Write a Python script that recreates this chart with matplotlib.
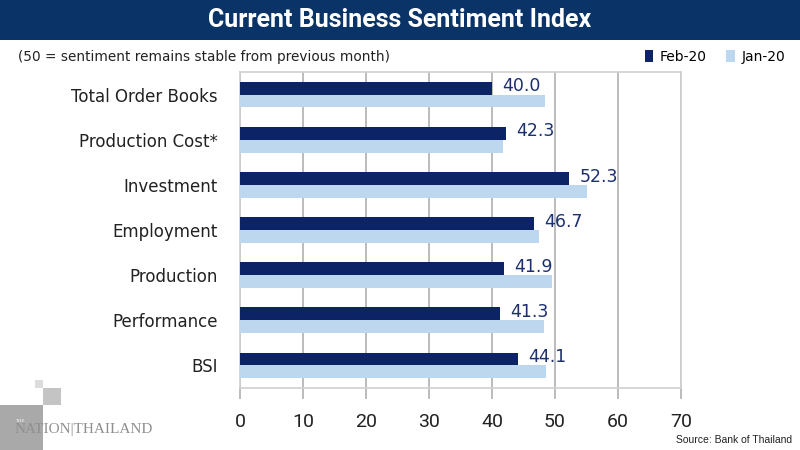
import numpy as np
import matplotlib.pyplot as plt
from matplotlib.patches import Rectangle

# data
categories = ['Total Order Books', 'Production Cost*', 'Investment', 'Employment',
              'Production', 'Performance', 'BSI']
feb20 = [40.0, 42.3, 52.3, 46.7, 41.9, 41.3, 44.1]
jan20 = [48.4, 41.7, 55.1, 47.5, 49.6, 48.3, 48.5]
xticks = [0, 10, 20, 30, 40, 50, 60, 70]

navy = '#0c2466'
light = '#bdd7ee'
grid_c = '#b0b0b0'

fig = plt.figure(figsize=(8, 4.5), dpi=100)
fig.patch.set_facecolor('white')

# title band
fig.patches.append(Rectangle((0, 1 - 40/450), 1, 40/450, transform=fig.transFigure,
                             facecolor='#0a3367', edgecolor='none', zorder=0))
fig.text(0.5, 1 - 20/450, 'Current Business Sentiment Index', ha='center', va='center',
         color='white', fontsize=18, fontweight='bold', family='Roboto')

fig.text(18/800, 1 - 57/450, '(50 = sentiment remains stable from previous month)',
         ha='left', va='center', fontsize=9.8, color='#222222', family='DejaVu Sans')

ax = fig.add_axes([240/800, 1 - 388/450, 441/800, 316/450])
y = np.arange(len(categories))
h = 0.285
ax.barh(y - h/2, feb20, height=h, color=navy, label='Feb-20', zorder=3)
ax.barh(y + h/2, jan20, height=h, color=light, label='Jan-20', zorder=3)

for yi, v in zip(y, feb20):
    ax.text(v + 1.6, yi - h/2 - 0.04, f'{v:.1f}', ha='left', va='center',
            fontsize=12.5, color='#1c2f6e', family='DejaVu Sans', zorder=4)

ax.set_xlim(0, 70)
ax.set_ylim(len(categories) - 0.5, -0.5)
ax.set_xticks(xticks)
ax.set_yticks(y)
ax.set_yticklabels(categories, fontsize=12, color='#222222', family='DejaVu Sans')
ax.tick_params(axis='y', length=0, pad=16)
ax.tick_params(axis='x', length=8, width=1.2, color=grid_c, pad=10, labelsize=14,
               labelcolor='#222222')
for lab in ax.get_xticklabels():
    lab.set_family('Roboto')
ax.grid(axis='x', color=grid_c, linewidth=1.2, zorder=0)
for s in ax.spines.values():
    s.set_color('#d0d0d0')
    s.set_linewidth(1.2)

ax.legend(loc='center right', bbox_to_anchor=(798/800, 1 - 57/450),
          bbox_transform=fig.transFigure, ncol=2, frameon=False,
          handlelength=0.6, handleheight=0.9, handletextpad=0.5, columnspacing=1.4,
          prop={'family': 'DejaVu Sans', 'size': 10})

# logo block
for (x0, y0, w, hh, c) in [(35, 380, 8, 8, '#dcdcdc'), (43, 388, 18, 17, '#c4c4c4'),
                           (0, 405, 43, 45, '#a9a9a9')]:
    fig.patches.append(Rectangle((x0/800, 1 - (y0 + hh)/450), w/800, hh/450,
                                 transform=fig.transFigure, facecolor=c,
                                 edgecolor='none', zorder=0))
fig.text(16/800, 1 - 421/450, 'THE', fontsize=3.5, color='white', family='Liberation Serif',
         va='center')
fig.text(15/800, 1 - 430/450, 'NATION|THAILAND', fontsize=11, color='#8f8f8f',
         family='Liberation Serif', va='center', ha='left')

fig.text(792/800, 1 - 440/450, 'Source: Bank of Thailand', ha='right', va='center',
         fontsize=7.5, color='#222222', family='Liberation Sans')

fig.savefig('out.png', dpi=100)
